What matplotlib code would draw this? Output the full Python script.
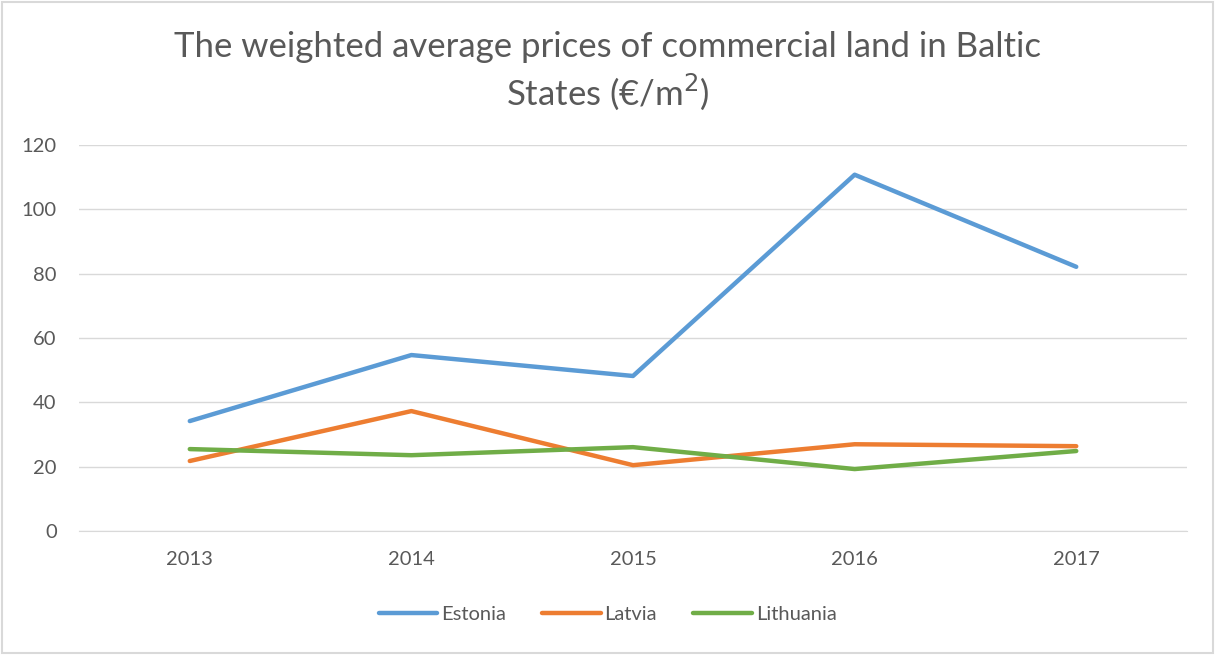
import matplotlib.pyplot as plt
from matplotlib.patches import Rectangle

plt.rcParams['font.family'] = ['Lato', 'DejaVu Sans']

# === Data ===
years = ['2013', '2014', '2015', '2016', '2017']
estonia = [34.2, 54.7, 48.2, 110.7, 82.1]
latvia = [21.8, 37.3, 20.5, 27.0, 26.4]
lithuania = [25.5, 23.6, 26.1, 19.3, 24.9]

grey = '#595959'

fig = plt.figure(figsize=(12.15, 6.55), dpi=100)
ax = fig.add_axes([0.065, 0.189, 0.912, 0.590])

x = range(len(years))
ax.plot(x, estonia, color='#5B9BD5', lw=3.2, label='Estonia', solid_capstyle='round')
ax.plot(x, latvia, color='#ED7D31', lw=3.2, label='Latvia', solid_capstyle='round')
ax.plot(x, lithuania, color='#70AD47', lw=3.2, label='Lithuania', solid_capstyle='round')

ax.set_xlim(-0.5, len(years) - 0.5)
ax.set_ylim(0, 120)
ax.set_yticks(range(0, 121, 20))
ax.set_xticks(list(x))
ax.set_xticklabels(years)
ax.grid(axis='y', color='#D9D9D9', lw=1)
ax.set_axisbelow(True)
for side in ['top', 'right', 'left']:
    ax.spines[side].set_visible(False)
ax.spines['bottom'].set_color('#D9D9D9')
ax.tick_params(length=0, labelsize=14.5, colors=grey, pad=14)
ax.tick_params(axis='y', pad=16)

fig.text(0.5, 0.953, 'The weighted average prices of commercial land in Baltic\nStates (€/m$^2$)',
         ha='center', va='top', fontsize=25, color=grey, linespacing=1.25)

fig.legend(loc='center', bbox_to_anchor=(0.5, 0.062), ncol=3, frameon=False,
           fontsize=14.5, labelcolor=grey, handlelength=2.9, handletextpad=0.2,
           columnspacing=1.8)

# outer border
fig.patches.append(Rectangle((0.002, 0.003), 0.996, 0.994, transform=fig.transFigure,
                             fill=False, edgecolor='#D9D9D9', lw=1.5))

fig.savefig('out.png', dpi=100)
